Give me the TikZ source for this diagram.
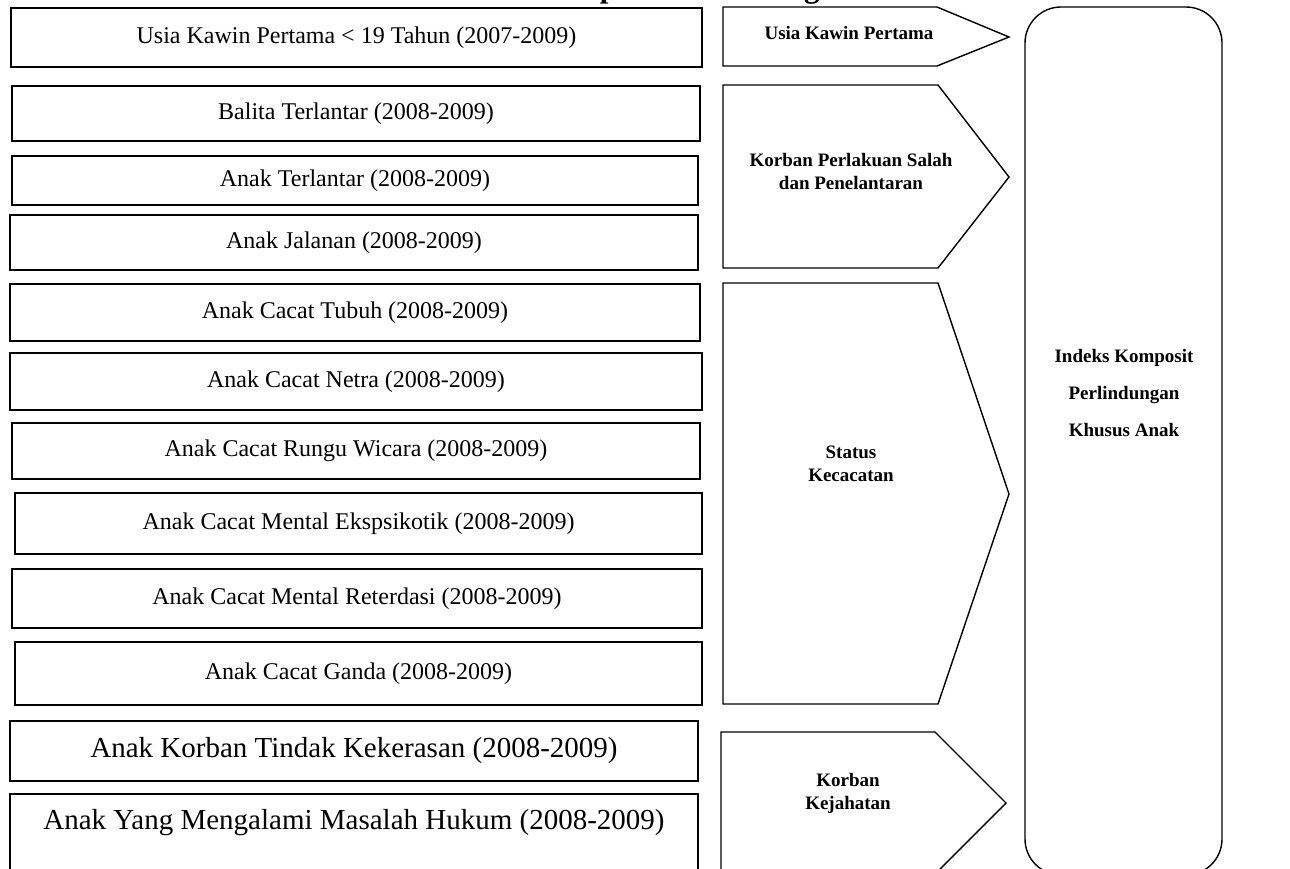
\documentclass[tikz,border=0pt]{standalone}
\usepackage{fontspec}
\setmainfont{Liberation Serif}
\begin{document}
\begin{tikzpicture}[x=1pt,y=-1pt,
  lbox/.style={draw, line width=2pt, anchor=north west, inner sep=0pt, font=\fontsize{24}{29}\selectfont},
  bigbox/.style={lbox, font=\fontsize{29}{35}\selectfont},
  penta/.style={draw, line width=1.4pt, line join=miter},
  plabel/.style={font=\bfseries\fontsize{19}{23}\selectfont, align=center, inner sep=0pt},
  title/.style={font=\bfseries\fontsize{31}{36}\selectfont, inner sep=0pt, anchor=base west}
]
\useasboundingbox (0,0) rectangle (1290,868);
\clip (0,0) rectangle (1290,868);
\fill[white] (0,0) rectangle (1290,868);

% clipped title (only descenders visible)
\node[title] (ttl) at (437,-2.5) {Indeks Komposit Perlindungan Khusus Anak};

% left boxes
\node[lbox, minimum width=691, minimum height=59] (b1) at (10,7) {Usia Kawin Pertama < 19 Tahun (2007-2009)};
\node[lbox, minimum width=688, minimum height=55] (b2) at (11,85) {Balita Terlantar (2008-2009)};
\node[lbox, minimum width=686, minimum height=49] (b3) at (11,155) {Anak Terlantar (2008-2009)};
\node[lbox, minimum width=688, minimum height=55] (b4) at (9,214) {Anak Jalanan (2008-2009)};
\node[lbox, minimum width=690, minimum height=57] (b5) at (9,283) {Anak Cacat Tubuh (2008-2009)};
\node[lbox, minimum width=692, minimum height=57] (b6) at (9,352) {Anak Cacat Netra (2008-2009)};
\node[lbox, minimum width=688, minimum height=56] (b7) at (11,422) {Anak Cacat Rungu Wicara (2008-2009)};
\node[lbox, minimum width=687, minimum height=61] (b8) at (14,492) {Anak Cacat Mental Ekspsikotik (2008-2009)};
\node[lbox, minimum width=690, minimum height=59] (b9) at (11,568) {Anak Cacat Mental Reterdasi (2008-2009)};
\node[lbox, minimum width=687, minimum height=63] (b10) at (14,641) {Anak Cacat Ganda (2008-2009)};
\node[bigbox, minimum width=688, minimum height=60] (b11) at (9,720) {Anak Korban Tindak Kekerasan (2008-2009)};
\node[bigbox, minimum width=688, minimum height=100] (b12) at (9,793) {};
\node[font=\fontsize{29}{35}\selectfont, inner sep=0pt] (t12) at ([yshift=-30pt]b12.north) {Anak Yang Mengalami Masalah Hukum (2008-2009)};

% pentagons
\draw[penta] (723,7) -- (937,7) -- (1009,37) -- (937,66) -- (723,66) -- cycle;
\node[plabel] (p1) at (849,33) {Usia Kawin Pertama};

\draw[penta] (723,85) -- (938,85) -- (1009,177) -- (938,268) -- (723,268) -- cycle;
\node[plabel] (p2) at (851,171) {Korban Perlakuan Salah\\dan Penelantaran};

\draw[penta] (723,283) -- (938,283) -- (1009,494) -- (938,704) -- (723,704) -- cycle;
\node[plabel] (p3) at (851,464) {Status\\Kecacatan};

\draw[penta] (721,732) -- (935,732) -- (1006,803) -- (935,874) -- (721,874) -- cycle;
\node[plabel] (p4) at (848,793) {Korban\\Kejahatan};

% index box
\draw[line width=1.4pt, rounded corners=36pt] (1025,7) rectangle (1222,875);
\node[font=\bfseries\fontsize{19}{36.7}\selectfont, align=center, inner sep=0pt] (idx) at (1124,393) {Indeks Komposit\\Perlindungan\\Khusus Anak};
\end{tikzpicture}
\end{document}
